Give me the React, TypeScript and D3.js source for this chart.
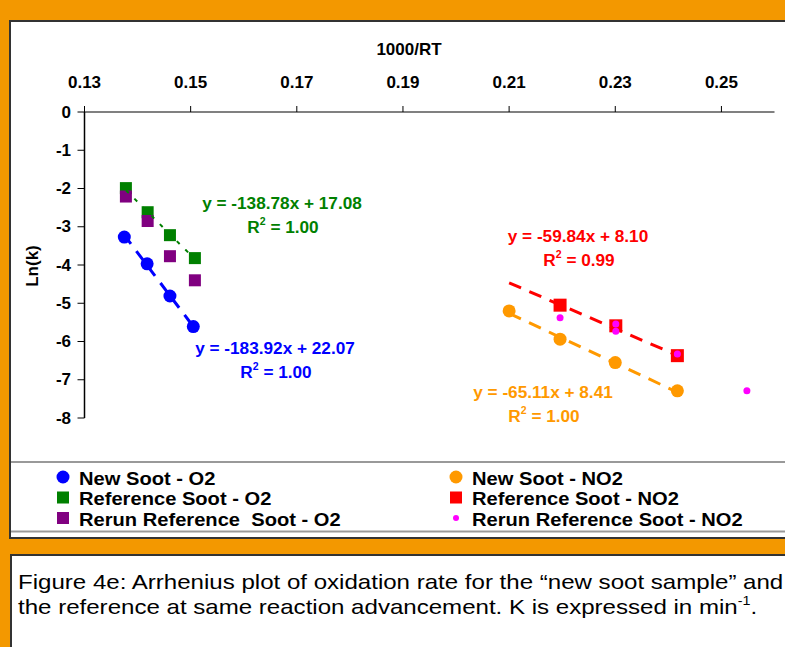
import React from "react";
import * as d3 from "d3";

// ---- data ----
const xTicks = [0.13, 0.15, 0.17, 0.19, 0.21, 0.23, 0.25];
const yTicks = [0, -1, -2, -3, -4, -5, -6, -7, -8];

const newSootO2X = [0.1375, 0.1418, 0.1461, 0.1505];
const newSootO2Y = [-3.27, -3.97, -4.81, -5.61];
const refSootO2X = [0.1378, 0.1419, 0.1461, 0.1508];
const refSootO2Y = [-1.99, -2.62, -3.22, -3.82];
const rerunRefO2X = [0.1378, 0.1419, 0.1461, 0.1508];
const rerunRefO2Y = [-2.21, -2.85, -3.77, -4.4];

const newSootNO2X = [0.21, 0.2196, 0.23, 0.2417];
const newSootNO2Y = [-5.2, -5.94, -6.55, -7.29];
const refSootNO2X = [0.2196, 0.2301, 0.2417];
const refSootNO2Y = [-5.05, -5.59, -6.37];
const rerunRefNO2X = [0.2196, 0.2301, 0.2301, 0.2417, 0.2548];
const rerunRefNO2Y = [-5.38, -5.54, -5.73, -6.33, -7.29];

// trend lines: slope, intercept, x range
const fitNames = ["newO2", "refO2", "refNO2", "newNO2"];
const fitSlopes = [-183.92, -138.78, -59.84, -65.11];
const fitIntercepts = [22.07, 17.08, 8.1, 8.41];
const fitR2 = ["1.00", "1.00", "0.99", "1.00"];
const fitXStart = [0.1375, 0.1378, 0.21, 0.21];
const fitXEnd = [0.1505, 0.1508, 0.2417, 0.2417];

const legendLabels = [
  "New Soot - O2",
  "Reference Soot - O2",
  "Rerun Reference  Soot - O2",
  "New Soot - NO2",
  "Reference Soot - NO2",
  "Rerun Reference Soot - NO2",
];

const captionLine1 = "Figure 4e: Arrhenius plot of oxidation rate for the “new soot sample” and";
const captionLine2 = "the reference at same reaction advancement. K is expressed in min";

const FONT = "'Liberation Sans', Arial, Helvetica, sans-serif";
const ORANGE_BG = "#F39800";

export default function App() {
  const W = 785;
  const H = 647;
  const x = d3.scaleLinear().domain([0.13, 0.26]).range([84.5, 774.5]);
  const y = d3.scaleLinear().domain([-8, 0]).range([418, 112]);

  const lineGen = d3
    .line<[number, number]>()
    .x((d) => x(d[0]))
    .y((d) => y(d[1]));

  const fitStyles = [
    { color: "#0000FF", width: 3, dash: "11,9" },
    { color: "#008000", width: 2, dash: "4,8" },
    { color: "#FF0000", width: 3, dash: "13,9" },
    { color: "#FF9900", width: 3, dash: "13,9" },
  ];

  const fitLines = fitNames.map((n, i) => {
    const pts: [number, number][] = [
      [fitXStart[i], fitSlopes[i] * fitXStart[i] + fitIntercepts[i]],
      [fitXEnd[i], fitSlopes[i] * fitXEnd[i] + fitIntercepts[i]],
    ];
    return (
      <path
        key={n}
        d={lineGen(pts) || ""}
        fill="none"
        stroke={fitStyles[i].color}
        strokeWidth={fitStyles[i].width}
        strokeDasharray={fitStyles[i].dash}
      />
    );
  });

  const eqPos = [
    { cx: 275, cy: 348, color: "#0000FF" },
    { cx: 282, cy: 203, color: "#008000" },
    { cx: 578, cy: 236, color: "#FF0000" },
    { cx: 543, cy: 392, color: "#FF9900" },
  ];

  const fmt = (v: number) => v.toFixed(2);
  const equations = fitNames.map((n, i) => (
    <g key={"eq" + n} fill={eqPos[i].color} fontFamily={FONT} fontWeight="bold" fontSize={17.2} textAnchor="middle">
      <text x={eqPos[i].cx} y={eqPos[i].cy} dominantBaseline="central" style={{ whiteSpace: "pre" }}>
        {`y = ${fmt(fitSlopes[i])}x + ${fmt(fitIntercepts[i])}`}
      </text>
      <text x={eqPos[i].cx + 1} y={eqPos[i].cy + 24} dominantBaseline="central">
        R<tspan fontSize={10.5} dy={-6}>2</tspan>
        <tspan dy={6}>{` = ${fitR2[i]}`}</tspan>
      </text>
    </g>
  ));

  const circles = (xs: number[], ys: number[], r: number, color: string, key: string) =>
    xs.map((v, i) => <circle key={key + i} cx={x(v)} cy={y(ys[i])} r={r} fill={color} />);
  const squares = (xs: number[], ys: number[], s: number, color: string, key: string) =>
    xs.map((v, i) => (
      <rect key={key + i} x={x(v) - s / 2} y={y(ys[i]) - s / 2} width={s} height={s} fill={color} />
    ));

  const legendColors = ["#0000FF", "#008000", "#800080", "#FF9900", "#FF0000", "#FF00FF"];
  const legendShapes = ["circle", "square", "square", "circle", "square", "dot"];

  return (
    <svg
      width={W}
      height={H}
      style={{ position: "absolute", left: 0, top: 0, display: "block" }}
    >
      <rect x={0} y={0} width={W} height={H} fill={ORANGE_BG} />
      {/* chart panel */}
      <rect x={10} y={21} width={800} height={517} fill="#fff" stroke="#333" strokeWidth={2} />
      {/* legend separator lines */}
      <line x1={11} x2={W} y1={462} y2={462} stroke="#999" strokeWidth={2} />
      <line x1={11} x2={W} y1={531.5} y2={531.5} stroke="#999" strokeWidth={2} />

      {/* x axis title */}
      <text x={409} y={49} textAnchor="middle" dominantBaseline="central" fontFamily={FONT} fontWeight="bold" fontSize={17}>
        1000/RT
      </text>
      {/* x axis */}
      <line x1={x(0.13)} x2={x(0.26)} y1={y(0)} y2={y(0)} stroke="#808080" strokeWidth={2} />
      {xTicks.map((t) => (
        <g key={"xt" + t}>
          <line x1={x(t)} x2={x(t)} y1={y(0) - 6} y2={y(0)} stroke="#000" strokeWidth={1} />
          <text x={x(t)} y={82} textAnchor="middle" dominantBaseline="central" fontFamily={FONT} fontWeight="bold" fontSize={17}>
            {t.toFixed(2)}
          </text>
        </g>
      ))}
      {/* y axis */}
      <line x1={x(0.13)} x2={x(0.13)} y1={y(0)} y2={y(-8)} stroke="#000" strokeWidth={1.5} />
      {yTicks.map((t) => (
        <g key={"yt" + t}>
          <line x1={x(0.13) - 7} x2={x(0.13)} y1={y(t)} y2={y(t)} stroke="#000" strokeWidth={1} />
          <text x={71} y={y(t)} textAnchor="end" dominantBaseline="central" fontFamily={FONT} fontWeight="bold" fontSize={17}>
            {t}
          </text>
        </g>
      ))}
      <text
        transform="translate(32,266) rotate(-90)"
        textAnchor="middle"
        dominantBaseline="central"
        fontFamily={FONT}
        fontWeight="bold"
        fontSize={17}
      >
        Ln(k)
      </text>

      {/* markers */}
      {squares(refSootO2X, refSootO2Y, 12, "#008000", "ro2")}
      {squares(rerunRefO2X, rerunRefO2Y, 12, "#800080", "rro2")}
      {circles(newSootO2X, newSootO2Y, 6.5, "#0000FF", "no2")}
      {circles(newSootNO2X, newSootNO2Y, 6.5, "#FF9900", "nno2")}
      {squares(refSootNO2X, refSootNO2Y, 13, "#FF0000", "rno2")}
      {/* trend lines */}
      {fitLines}
      {circles(rerunRefNO2X, rerunRefNO2Y, 3.5, "#FF00FF", "rrno2")}

      {equations}

      {/* legend */}
      {legendLabels.map((lab, i) => {
        const col = Math.floor(i / 3);
        const row = i % 3;
        const mx = col === 0 ? 63 : 456;
        const my = 477 + row * 20.5;
        const shape = legendShapes[i];
        return (
          <g key={"lg" + i}>
            {shape === "circle" && <circle cx={mx} cy={my} r={6.5} fill={legendColors[i]} />}
            {shape === "square" && <rect x={mx - 6} y={my - 6} width={12} height={12} fill={legendColors[i]} />}
            {shape === "dot" && <circle cx={mx} cy={my} r={3} fill={legendColors[i]} />}
            <text
              transform={`translate(${mx + 16},${my + 1}) scale(1.06,1)`}
              dominantBaseline="central"
              fontFamily={FONT}
              fontWeight="bold"
              fontSize={19}
              style={{ whiteSpace: "pre" }}
            >
              {lab}
            </text>
          </g>
        );
      })}

      {/* caption */}
      <rect x={11} y={555} width={800} height={120} fill="#fff" stroke="#333" strokeWidth={2} />
      <text transform="translate(18,582) scale(1.147,1)" dominantBaseline="central" fontFamily={FONT} fontSize={21}>
        {captionLine1}
      </text>
      <text transform="translate(18,607) scale(1.147,1)" dominantBaseline="central" fontFamily={FONT} fontSize={21}>
        {captionLine2}
        <tspan fontSize={12.5} dy={-7}>-1</tspan>
        <tspan dy={7}>.</tspan>
      </text>
    </svg>
  );
}
